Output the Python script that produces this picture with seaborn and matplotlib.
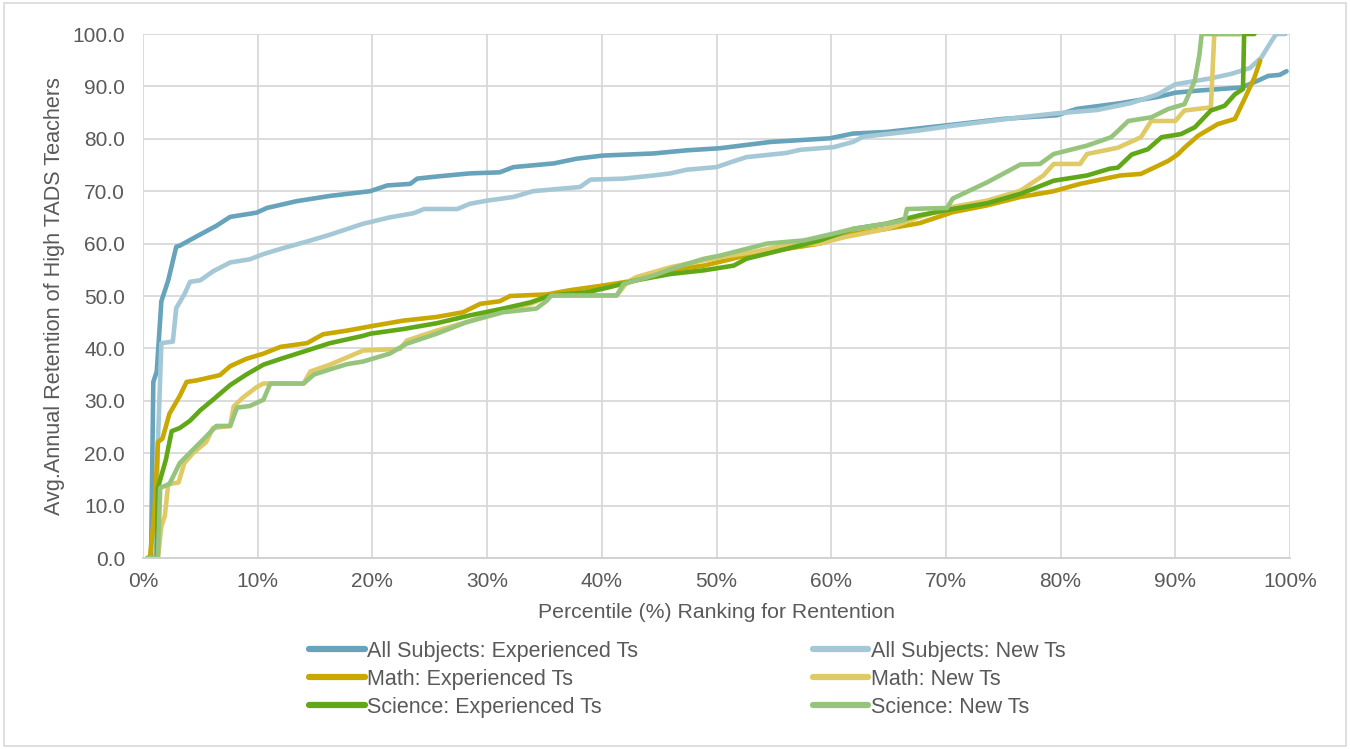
import matplotlib
matplotlib.use("Agg")
import matplotlib.pyplot as plt
from matplotlib.patches import Rectangle
from matplotlib.ticker import FuncFormatter
import seaborn as sns

# Percentile rank (%) and average annual retention for each group
all_exp_pct = [0.4, 0.7, 0.9, 1.2, 1.6, 2.2, 2.9, 3.2, 4.7, 6.4, 7.6, 9.9, 10.8, 13.4, 16.3,
               19.8, 21.3, 23.3, 23.9, 25.6, 28.5, 31.1, 32.3, 35.8, 37.8, 40.1, 44.5, 47.4,
               50.3, 54.7, 59.9, 61.9, 64.8, 70.6, 75.0, 79.7, 81.4, 85.2, 88.5, 90.0, 92.0,
               95.8, 97.2, 98.1, 99.1, 99.7]
all_exp_val = [0, 0, 33.6, 35.6, 49.0, 53.0, 59.4, 59.6, 61.4, 63.4, 65.1, 65.9, 66.8, 68.1, 69.1,
               70.0, 71.1, 71.4, 72.4, 72.8, 73.4, 73.6, 74.6, 75.3, 76.2, 76.8, 77.2, 77.8,
               78.2, 79.4, 80.1, 81.0, 81.3, 82.7, 83.8, 84.5, 85.7, 86.8, 88.0, 88.8, 89.2,
               89.8, 91.1, 92.0, 92.2, 92.9]

all_new_pct = [0.4, 1.1, 1.3, 1.6, 2.6, 2.9, 3.6, 4.1, 5.0, 6.1, 7.6, 9.3, 10.5, 12.0, 14.3,
               16.3, 19.2, 19.8, 21.5, 23.6, 24.5, 27.4, 28.5, 30.0, 32.3, 34.0, 38.1, 39.0,
               41.9, 44.5, 46.0, 47.4, 50.0, 51.2, 52.6, 56.1, 57.3, 60.2, 61.9, 62.8, 67.7,
               70.6, 76.5, 79.4, 83.2, 86.1, 88.5, 90.0, 93.0, 94.9, 96.5, 97.5, 98.4, 98.8,
               99.6]
all_new_val = [0, 0, 22.0, 41.0, 41.3, 47.7, 50.3, 52.7, 53.0, 54.7, 56.4, 57.0, 58.0, 59.0, 60.4,
               61.7, 63.8, 64.1, 65.0, 65.8, 66.6, 66.6, 67.6, 68.2, 68.9, 70.0, 70.8, 72.2,
               72.4, 73.0, 73.4, 74.1, 74.6, 75.5, 76.5, 77.3, 77.9, 78.4, 79.4, 80.4, 81.6,
               82.5, 84.1, 84.8, 85.5, 86.8, 88.5, 90.4, 91.5, 92.4, 93.5, 95.5, 98.7, 100.0,
               100.0]

math_exp_pct = [0.4, 0.6, 1.0, 1.3, 1.7, 2.3, 3.2, 3.8, 4.7, 6.7, 7.6, 9.0, 10.5, 12.0, 14.3,
                15.7, 17.8, 19.8, 22.7, 25.6, 27.9, 29.4, 31.1, 32.0, 35.2, 37.2, 40.1, 43.0,
                44.5, 46.8, 48.9, 51.2, 53.2, 56.1, 59.0, 61.9, 64.8, 67.7, 70.6, 73.6, 76.5,
                79.4, 81.7, 85.2, 87.0, 89.4, 90.2, 90.8, 92.0, 93.7, 95.2, 96.1, 96.9, 97.4]
math_exp_val = [0, 0, 8.7, 22.1, 22.8, 27.5, 30.9, 33.6, 33.9, 34.9, 36.6, 38.0, 39.0, 40.3, 41.0,
                42.7, 43.4, 44.2, 45.3, 46.0, 46.9, 48.5, 49.0, 50.0, 50.3, 51.1, 52.0, 53.0,
                53.9, 55.2, 55.8, 57.0, 58.1, 59.0, 60.0, 61.9, 62.8, 63.9, 66.0, 67.3, 68.9,
                70.0, 71.4, 73.0, 73.3, 75.8, 77.0, 78.3, 80.6, 82.8, 83.8, 87.9, 91.7, 94.9]

math_new_pct = [0.4, 1.3, 1.6, 1.9, 2.2, 3.1, 3.6, 4.4, 5.5, 6.1, 7.6, 7.9, 8.7, 9.9, 10.5,
                14.0, 14.6, 16.3, 19.2, 22.4, 23.0, 25.6, 28.2, 31.4, 33.8, 35.5, 41.3, 42.2,
                43.0, 46.0, 48.9, 50.3, 53.2, 56.1, 59.0, 61.1, 64.8, 67.7, 70.6, 73.6, 76.5,
                78.5, 79.4, 81.7, 82.3, 85.0, 87.0, 87.9, 90.0, 90.8, 93.1, 93.4, 96.2]
math_new_val = [0, 0, 6.0, 8.0, 14.1, 14.4, 18.1, 20.1, 22.1, 24.8, 25.2, 28.9, 30.6, 32.6, 33.3,
                33.3, 35.6, 36.9, 39.6, 39.9, 41.5, 43.4, 45.0, 47.2, 48.5, 50.1, 50.1, 52.6,
                53.6, 55.5, 56.8, 57.4, 58.4, 59.7, 60.0, 61.2, 62.8, 65.1, 67.0, 68.2, 70.1,
                73.0, 75.2, 75.2, 77.1, 78.3, 80.3, 83.4, 83.4, 85.4, 86.0, 100.0, 100.0]

sci_exp_pct = [0.4, 1.2, 1.3, 2.0, 2.5, 3.2, 4.1, 5.0, 6.1, 7.6, 9.0, 10.5, 12.0, 14.3, 16.3,
               19.2, 19.8, 22.7, 25.6, 28.5, 31.4, 33.8, 35.5, 38.7, 40.7, 43.0, 46.0, 48.9,
               51.5, 52.6, 56.1, 59.0, 61.9, 64.8, 67.7, 70.6, 73.6, 76.5, 79.4, 82.3, 84.3,
               85.0, 86.2, 87.6, 88.8, 90.5, 91.7, 93.1, 94.3, 95.2, 95.9, 96.0, 96.9]
sci_exp_val = [0, 0, 13.4, 18.8, 24.2, 24.8, 26.2, 28.2, 30.2, 33.0, 35.0, 36.9, 38.0, 39.6, 41.0,
               42.4, 42.8, 43.7, 44.8, 46.3, 47.6, 48.8, 50.1, 50.7, 51.7, 53.0, 54.2, 54.9,
               55.8, 57.1, 59.0, 60.6, 62.8, 63.8, 65.4, 66.6, 67.7, 69.5, 72.0, 73.0, 74.3,
               74.5, 77.0, 78.0, 80.3, 80.9, 82.2, 85.4, 86.3, 88.5, 89.5, 100.0, 100.0]

sci_new_pct = [0.4, 1.3, 1.5, 2.3, 3.2, 4.1, 5.2, 6.4, 7.6, 8.2, 9.3, 10.5, 11.1, 14.0, 14.9,
               16.3, 17.8, 19.2, 21.5, 23.0, 25.6, 28.2, 31.4, 34.3, 35.2, 35.6, 41.3, 41.9,
               44.5, 46.5, 48.9, 50.3, 54.4, 57.6, 60.2, 61.9, 64.8, 66.4, 66.6, 70.1, 70.6,
               73.6, 76.5, 78.2, 79.4, 82.3, 84.4, 85.0, 85.9, 87.9, 89.4, 90.8, 91.7, 92.1,
               92.3, 95.6]
sci_new_val = [0, 0, 13.4, 14.1, 18.1, 20.1, 22.5, 25.2, 25.2, 28.7, 29.0, 30.2, 33.3, 33.3, 35.0,
               36.0, 37.0, 37.5, 39.0, 40.9, 42.8, 45.0, 46.9, 47.6, 49.1, 50.1, 50.1, 52.3,
               53.9, 55.5, 57.1, 57.7, 60.0, 60.6, 61.9, 62.8, 63.8, 64.5, 66.6, 66.8, 68.6,
               71.7, 75.1, 75.2, 77.1, 78.7, 80.3, 81.5, 83.4, 84.1, 85.7, 86.6, 91.1, 96.0,
               100.0, 100.0]

series = [
    ("All Subjects: Experienced Ts", all_exp_pct, all_exp_val, "#67A3BB"),
    ("All Subjects: New Ts", all_new_pct, all_new_val, "#A5C8D6"),
    ("Math: Experienced Ts", math_exp_pct, math_exp_val, "#C9A800"),
    ("Math: New Ts", math_new_pct, math_new_val, "#E0CA66"),
    ("Science: Experienced Ts", sci_exp_pct, sci_exp_val, "#60A818"),
    ("Science: New Ts", sci_new_pct, sci_new_val, "#96C47D"),
]

x_ticks = list(range(0, 101, 10))
y_ticks = list(range(0, 101, 10))

sns.set_theme(style="white")
plt.rcParams["font.family"] = ["Liberation Sans", "DejaVu Sans"]

text_color = "#595959"
grid_color = "#D9D9D9"

fig = plt.figure(figsize=(13.5, 7.49), dpi=100)
ax = fig.add_axes([143 / 1350, 1 - 558 / 749, (1290 - 143) / 1350, (558 - 34) / 749])

handles = {}
for name, xs, ys, color in series:
    sns.lineplot(x=xs, y=ys, ax=ax, color=color, linewidth=3.3, sort=False,
                 estimator=None, label=name, solid_joinstyle="round",
                 solid_capstyle="round")
    handles[name] = ax.get_lines()[-1]

ax.set_xlim(0, 100)
ax.set_ylim(0, 100)
ax.set_xticks(x_ticks)
ax.set_yticks(y_ticks)
ax.xaxis.set_major_formatter(FuncFormatter(lambda v, _: f"{v:.0f}%"))
ax.yaxis.set_major_formatter(FuncFormatter(lambda v, _: f"{v:.1f}"))
ax.grid(True, color=grid_color, linewidth=1.3)
ax.set_axisbelow(True)
for side in ("left", "right", "top"):
    ax.spines[side].set_visible(False)
ax.spines["bottom"].set_color("#CFCFCF")
ax.spines["bottom"].set_linewidth(1.3)
ax.tick_params(axis="both", length=0, labelsize=15, colors=text_color)
ax.tick_params(axis="y", pad=13)
ax.tick_params(axis="x", pad=10)

ax.set_xlabel("Percentile (%) Ranking for Rentention", fontsize=15.3, color=text_color,
              labelpad=9)
ax.set_ylabel("Avg.Annual Retention of High TADS Teachers", fontsize=15.6, color=text_color,
              labelpad=5)

ax.get_legend().remove()
order = ["All Subjects: Experienced Ts", "Math: Experienced Ts", "Science: Experienced Ts",
         "All Subjects: New Ts", "Math: New Ts", "Science: New Ts"]
leg = fig.legend([handles[n] for n in order], order, loc="upper left",
                 bbox_to_anchor=(309 / 1350, 1 - 641 / 749), ncol=2, frameon=False,
                 fontsize=15.5, handlelength=2.6, handletextpad=0.1, columnspacing=8.1,
                 labelspacing=0.32, borderpad=0, borderaxespad=0)
for t in leg.get_texts():
    t.set_color(text_color)
for h in leg.legend_handles:
    h.set_linewidth(4.5)

fig.patches.append(Rectangle((0.003, 0.004), 0.994, 0.992, transform=fig.transFigure,
                             fill=False, edgecolor="#D9D9D9", linewidth=1.2))

fig.savefig("out.png", dpi=100, facecolor="white")
